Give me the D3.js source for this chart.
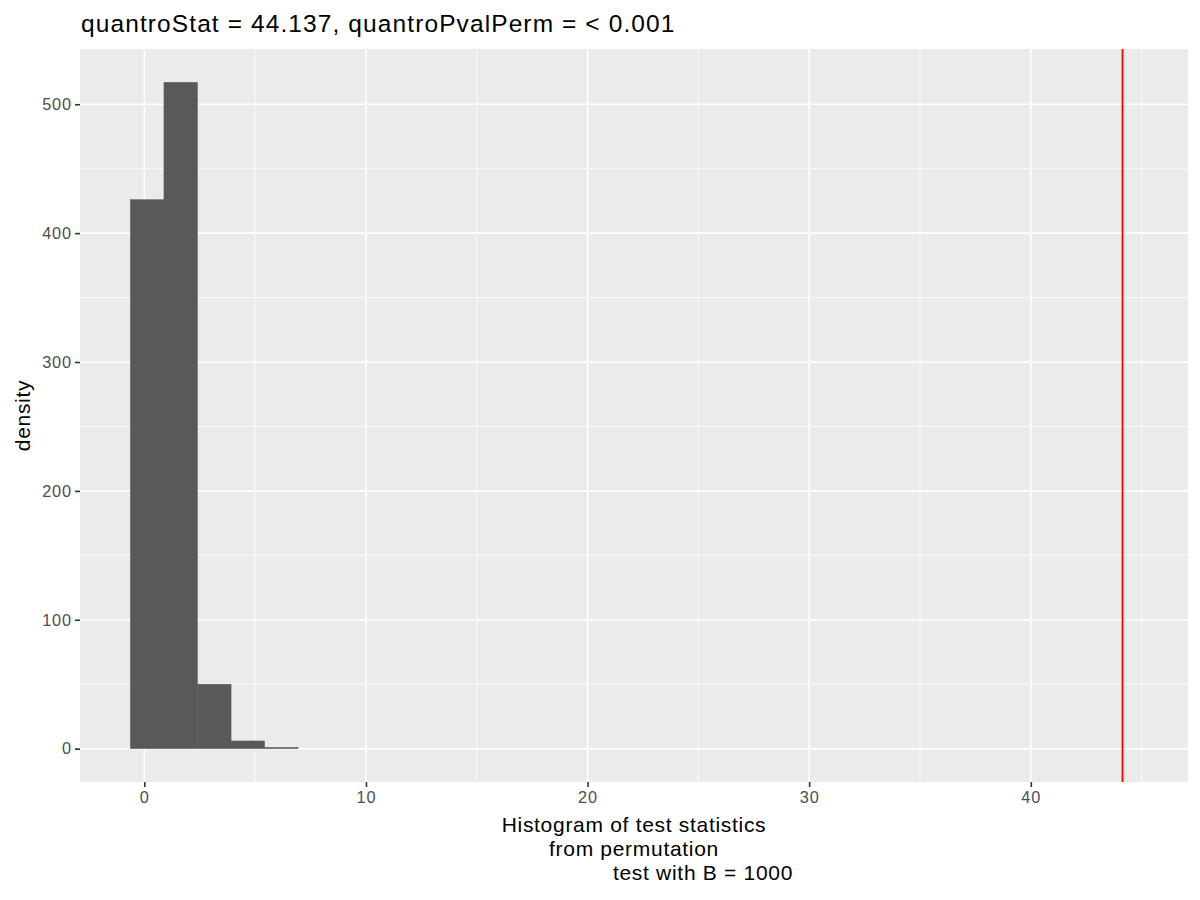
<!DOCTYPE html>
<html>
<head>
<meta charset="utf-8">
<script src="https://cdn.jsdelivr.net/npm/d3@7"></script>
<style>
  body { margin: 0; background: #fff; }
  text { font-family: "Liberation Sans", Arial, sans-serif; }
</style>
</head>
<body>
<div id="chart"></div>
<script>
// histogram of permutation statistics (B = 1000), 30 bins over the full range
var binEdges = [-0.63, 0.885, 2.40, 3.915, 5.43, 6.945];
var binCounts = [426, 517, 50, 6, 1];
var histRange = [-0.63, 44.82];
var quantroStat = 44.137;
var xTicks = [0, 10, 20, 30, 40];
var xMinor = [5, 15, 25, 35, 45];
var yTicks = [0, 100, 200, 300, 400, 500];
var yMinor = [50, 150, 250, 350, 450];
var titleText = "quantroStat = 44.137, quantroPvalPerm = < 0.001";
var xLabelLines = ["Histogram of test statistics", "from permutation", "test with B = 1000"];
var yLabelText = "density";

var svgWidth = 1200;
var svgHeight = 900;
var margin = { top: 49, right: 12, bottom: 118, left: 80 };
var width = svgWidth - margin.left - margin.right;
var height = svgHeight - margin.top - margin.bottom;

var svg = d3.select("#chart")
  .append("svg")
  .attr("width", svgWidth)
  .attr("height", svgHeight);

var chartGroup = svg.append("g")
  .attr("transform", `translate(${margin.left}, ${margin.top})`);

// ggplot style 5% expansion
var xSpan = histRange[1] - histRange[0];
var xScale = d3.scaleLinear()
  .domain([histRange[0] - 0.05 * xSpan, histRange[1] + 0.05 * xSpan])
  .range([0, width]);

var yMax = d3.max(binCounts);
var yScale = d3.scaleLinear()
  .domain([-0.05 * yMax, yMax * 1.05])
  .range([height, 0]);

// panel background
chartGroup.append("rect")
  .attr("width", width)
  .attr("height", height)
  .attr("fill", "#EBEBEB");

// grid lines
chartGroup.selectAll(".xminor").data(xMinor).enter().append("line")
  .attr("x1", d => xScale(d)).attr("x2", d => xScale(d))
  .attr("y1", 0).attr("y2", height)
  .attr("stroke", "#fff").attr("stroke-width", 0.8);
chartGroup.selectAll(".yminor").data(yMinor).enter().append("line")
  .attr("y1", d => yScale(d)).attr("y2", d => yScale(d))
  .attr("x1", 0).attr("x2", width)
  .attr("stroke", "#fff").attr("stroke-width", 0.8);
chartGroup.selectAll(".xmajor").data(xTicks).enter().append("line")
  .attr("x1", d => xScale(d)).attr("x2", d => xScale(d))
  .attr("y1", 0).attr("y2", height)
  .attr("stroke", "#fff").attr("stroke-width", 1.6);
chartGroup.selectAll(".ymajor").data(yTicks).enter().append("line")
  .attr("y1", d => yScale(d)).attr("y2", d => yScale(d))
  .attr("x1", 0).attr("x2", width)
  .attr("stroke", "#fff").attr("stroke-width", 1.6);

// bars
chartGroup.selectAll(".bar")
  .data(binCounts)
  .enter()
  .append("rect")
  .attr("x", (d, i) => xScale(binEdges[i]))
  .attr("width", (d, i) => xScale(binEdges[i + 1]) - xScale(binEdges[i]))
  .attr("y", d => yScale(d))
  .attr("height", d => yScale(0) - yScale(d))
  .attr("fill", "#595959")
  .attr("stroke", "#595959")
  .attr("stroke-width", 0.4);

// observed statistic
chartGroup.append("line")
  .attr("x1", xScale(quantroStat)).attr("x2", xScale(quantroStat))
  .attr("y1", 0).attr("y2", height)
  .attr("stroke", "#FF0000").attr("stroke-width", 1.8);

// axes
var bottomAxis = d3.axisBottom(xScale).tickValues(xTicks).tickSize(5).tickPadding(4);
var leftAxis = d3.axisLeft(yScale).tickValues(yTicks).tickSize(5).tickPadding(3);

var xAxisG = chartGroup.append("g")
  .attr("transform", `translate(0, ${height})`)
  .call(bottomAxis);
var yAxisG = chartGroup.append("g")
  .call(leftAxis);

[xAxisG, yAxisG].forEach(function (g) {
  g.select(".domain").remove();
  g.selectAll(".tick line").attr("stroke", "#333333").attr("stroke-width", 1.6);
  g.selectAll(".tick text")
    .attr("fill", "#4D4D4D")
    .style("font-size", "16.3px")
    .style("letter-spacing", "0.9px")
    .style("font-family", "'Liberation Sans', Arial, sans-serif");
});

// title
svg.append("text")
  .attr("x", margin.left + 1)
  .attr("y", 31.5)
  .attr("fill", "#000")
  .style("font-size", "24.5px")
  .style("letter-spacing", "1.1px")
  .text(titleText);

// x axis label (multi-line, last line shifted as in original)
var xLabelCenter = margin.left + width / 2;
var xLabelX = [xLabelCenter, xLabelCenter, xLabelCenter + 69];
svg.selectAll(".xlab")
  .data(xLabelLines)
  .enter()
  .append("text")
  .attr("x", (d, i) => xLabelX[i])
  .attr("y", (d, i) => 832 + i * 24)
  .attr("text-anchor", "middle")
  .attr("fill", "#000")
  .style("font-size", "21px")
  .style("letter-spacing", "0.7px")
  .text(d => d);

// y axis label
svg.append("text")
  .attr("transform", `translate(30, ${margin.top + height / 2}) rotate(-90)`)
  .attr("text-anchor", "middle")
  .attr("fill", "#000")
  .style("font-size", "21px")
  .style("letter-spacing", "0.7px")
  .text(yLabelText);
</script>
</body>
</html>
